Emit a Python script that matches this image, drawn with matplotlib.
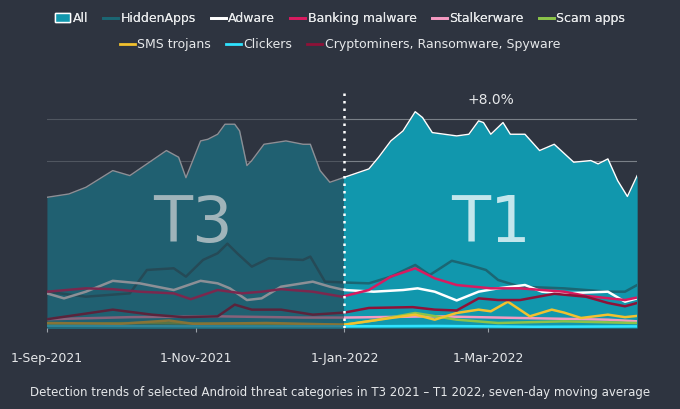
import numpy as np
import matplotlib.pyplot as plt
from matplotlib.patches import Patch
from matplotlib.lines import Line2D

# days since 1-Sep-2021, values in arbitrary units (gridline step = 1)
all_days = [0, 9, 16, 27, 34, 43, 49, 54, 57, 63, 66, 70, 73, 77, 79, 82, 84, 89, 98, 105, 108, 112, 116,
            122, 132, 136, 141, 146, 151, 154, 158, 168, 173, 177, 179, 182, 187, 190, 196, 202, 208, 216,
            223, 226, 230, 234, 238, 242]
all_vals = [3.13, 3.21, 3.37, 3.77, 3.65, 4.01, 4.25, 4.09, 3.60, 4.48, 4.52, 4.64, 4.88, 4.88, 4.72, 3.89,
            4.01, 4.40, 4.48, 4.40, 4.40, 3.77, 3.49, 3.61, 3.81, 4.09, 4.48, 4.72, 5.18, 5.04, 4.68, 4.60,
            4.64, 4.96, 4.92, 4.64, 4.92, 4.64, 4.64, 4.25, 4.40, 3.97, 4.01, 3.93, 4.05, 3.53, 3.15, 3.65]

hidden_days = [0, 16, 34, 41, 52, 57, 64, 70, 74, 78, 84, 91, 105, 108, 114, 122, 132, 141, 151, 157, 166,
               173, 180, 185, 194, 212, 230, 237, 242]
hidden_vals = [0.87, 0.75, 0.83, 1.39, 1.43, 1.23, 1.63, 1.79, 2.02, 1.79, 1.47, 1.67, 1.63, 1.71, 1.11,
               1.09, 1.07, 1.23, 1.51, 1.27, 1.61, 1.51, 1.39, 1.15, 0.99, 0.95, 0.87, 0.87, 1.03]

adware_days = [0, 7, 16, 27, 38, 52, 63, 70, 75, 82, 88, 96, 109, 116, 122, 134, 146, 152, 159, 168, 177,
               185, 196, 203, 212, 230, 237, 242]
adware_vals = [0.83, 0.71, 0.87, 1.13, 1.07, 0.91, 1.13, 1.07, 0.95, 0.67, 0.71, 0.99, 1.11, 0.99, 0.91,
               0.87, 0.91, 0.95, 0.87, 0.66, 0.87, 0.95, 1.03, 0.87, 0.83, 0.87, 0.63, 0.71]

banking_days = [0, 16, 27, 38, 52, 59, 70, 80, 88, 96, 109, 121, 132, 141, 151, 159, 168, 182, 194, 212,
                221, 237, 242]
banking_vals = [0.87, 0.95, 0.93, 0.87, 0.83, 0.69, 0.91, 0.83, 0.87, 0.93, 0.87, 0.75, 0.91, 1.23, 1.43,
                1.19, 1.03, 0.95, 0.95, 0.87, 0.77, 0.67, 0.73]

stalker_days = [0, 34, 70, 105, 122, 159, 194, 230, 242]
stalker_vals = [0.21, 0.26, 0.28, 0.25, 0.25, 0.28, 0.24, 0.20, 0.16]

scam_days = [0, 40, 80, 122, 134, 151, 168, 185, 212, 242]
scam_vals = [0.10, 0.12, 0.10, 0.08, 0.18, 0.36, 0.20, 0.12, 0.16, 0.12]

sms_days = [0, 30, 50, 60, 90, 122, 141, 151, 159, 168, 177, 182, 189, 198, 207, 212, 219, 230, 237, 242]
sms_vals = [0.12, 0.10, 0.18, 0.10, 0.12, 0.08, 0.24, 0.32, 0.20, 0.36, 0.44, 0.40, 0.63, 0.28, 0.44,
            0.37, 0.24, 0.32, 0.26, 0.29]

click_days = [0, 60, 122, 160, 200, 242]
click_vals = [0.05, 0.04, 0.04, 0.05, 0.03, 0.04]

crypto_days = [0, 13, 27, 43, 56, 70, 77, 84, 96, 109, 122, 132, 150, 159, 168, 177, 185, 194, 208, 221,
               230, 237, 242]
crypto_vals = [0.21, 0.32, 0.44, 0.32, 0.26, 0.28, 0.56, 0.44, 0.44, 0.32, 0.37, 0.48, 0.50, 0.44, 0.42,
               0.71, 0.67, 0.67, 0.82, 0.75, 0.60, 0.52, 0.60]

tick_days = [0, 61, 122, 181]
tick_labels = ["1-Sep-2021", "1-Nov-2021", "1-Jan-2022", "1-Mar-2022"]
split_day = 122

bg = "#2e3440"
fg = "#e6e8ea"
area_col = "#1197ad"

series = [
  ("HiddenApps", hidden_days, hidden_vals, "#1b6673"),
  ("Adware", adware_days, adware_vals, "#ffffff"),
  ("Banking malware", banking_days, banking_vals, "#d81b60"),
  ("Stalkerware", stalker_days, stalker_vals, "#f49ac1"),
  ("Scam apps", scam_days, scam_vals, "#8bc34a"),
  ("SMS trojans", sms_days, sms_vals, "#f2c12e"),
  ("Clickers", click_days, click_vals, "#2fe3ff"),
  ("Cryptominers, Ransomware, Spyware", crypto_days, crypto_vals, "#8e1238"),
]

fig = plt.figure(figsize=[6.8, 4.09], dpi=100, facecolor=bg)
ax = fig.add_axes([0.069, 0.198, 0.868, 0.582])
ax.set_facecolor(bg)

for g in [4, 5]:
  ax.axhline(g, color="#7a8088", lw=0.8, zorder=0)

ax.fill_between(all_days, 0, all_vals, color=area_col, zorder=1, lw=0)
ax.plot(all_days, all_vals, color="white", lw=1.0, zorder=2)

for name, d, v, c in series:
  ax.plot(d, v, color=c, lw=1.8, zorder=3)

# darken the T3 part
ax.axvspan(0, split_day, ymin=0, ymax=1, color=bg, alpha=0.55, lw=0, zorder=4)
ax.plot([split_day, split_day], [0, 5.7], color="white", lw=1.8, ls=(0, (1, 2)), zorder=5)

ax.text(60, 2.5, "T3", fontsize=46, color="#b8c4c8", alpha=0.85, ha="center", va="center", zorder=6)
ax.text(182, 2.5, "T1", fontsize=46, color="#d8f0f4", alpha=0.9, ha="center", va="center", zorder=6)
ax.text(182, 5.45, "+8.0%", fontsize=10, color=fg, ha="center", va="center", zorder=6)

ax.set_xlim(0, 242)
ax.set_ylim(0, 5.7)
ax.set_yticks([])
ax.set_xticks(tick_days)
ax.set_xticklabels(tick_labels, color=fg, fontsize=9)
ax.tick_params(axis="x", colors="#9aa0a8", length=3, labelcolor=fg, pad=14)
for s in ax.spines.values():
  s.set_visible(False)

row1 = [Patch(facecolor=area_col, edgecolor="white", label="All")]
row1 += [Line2D([], [], color=c, lw=2, label=n) for n, d, v, c in series[:5]]
row2 = [Line2D([], [], color=c, lw=2, label=n) for n, d, v, c in series[5:]]
leg_kw = dict(frameon=False, fontsize=9, labelcolor=fg, handlelength=1.2, handletextpad=0.2,
              columnspacing=1.2, loc="center")
fig.add_artist(fig.legend(handles=row1, ncol=6, bbox_to_anchor=(0.5, 0.955), **leg_kw))
fig.legend(handles=row2, ncol=3, bbox_to_anchor=(0.5, 0.89), **leg_kw)

fig.text(0.5, 0.04, "Detection trends of selected Android threat categories in T3 2021 \u2013 T1 2022, seven-day moving average",
         color=fg, fontsize=8.5, ha="center", va="center")

plt.savefig("out.png", facecolor=bg)
